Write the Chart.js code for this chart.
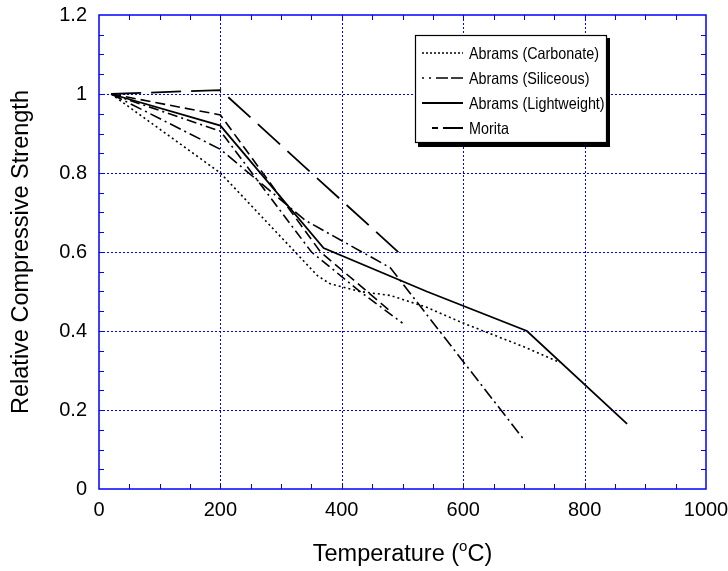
<!DOCTYPE html>
<html><head><meta charset="utf-8">
<script src="https://cdn.jsdelivr.net/npm/chart.js@4"></script>
<style>html,body{margin:0;padding:0;background:#fff;} #wrap{width:728px;height:571px;position:relative;}</style>
</head><body><div id="wrap"><canvas id="c" width="728" height="571"></canvas></div>
<script>
// ---- data ----
const carbonateT = [20, 200, 360, 380, 430, 480, 540, 600, 700, 760];
const carbonateR = [1.0, 0.80, 0.54, 0.52, 0.50, 0.49, 0.46, 0.42, 0.36, 0.32];
const siliceousT = [20, 200, 340, 480, 700];
const siliceousR = [1.0, 0.86, 0.68, 0.56, 0.125];
const siliceous2T = [20, 200, 350, 430, 500];
const siliceous2R = [1.0, 0.906, 0.60, 0.50, 0.42];
const lightT = [20, 200, 370, 540, 705, 870];
const lightR = [1.0, 0.92, 0.61, 0.50, 0.40, 0.165];
const moritaT = [20, 200, 500];
const moritaR = [1.0, 1.01, 0.59];
const morita2T = [20, 200, 365, 480];
const morita2R = [1.0, 0.947, 0.60, 0.45];
const xTicks = [0, 200, 400, 600, 800, 1000];
const yTicks = [0, 0.2, 0.4, 0.6, 0.8, 1, 1.2];
const legendLabels = ['Abrams (Carbonate)', 'Abrams (Siliceous)', 'Abrams (Lightweight)', 'Morita'];
const xTitle = ['Temperature (', 'o', 'C)'];
const yTitle = 'Relative Compressive Strength';

function pts(T, R) { return T.map((t, i) => ({x: t, y: R[i]})); }

const FONT = '"Liberation Sans", Arial, sans-serif';
const BLUE = '#0000ff';

const dsStyles = [
  {dash: [2, 3], width: 1.6, legendDash: [2, 2]},
  {dash: [12, 4, 2, 4], width: 1.6, legendDash: [2, 5, 2, 5, 12, 3, 12, 3]},
  {dash: [], width: 1.8, legendDash: []},
  {dash: [30, 10], width: 1.8, legendDash: [6, 5, 30, 5]}
];

const datasets = [
  {label: legendLabels[0], data: pts(carbonateT, carbonateR), li: 0},
  {label: legendLabels[1], data: pts(siliceousT, siliceousR), li: 1},
  {label: legendLabels[2], data: pts(lightT, lightR), li: 2},
  {label: legendLabels[3], data: pts(moritaT, moritaR), li: 3},
  {label: legendLabels[1] + ' 2', data: pts(siliceous2T, siliceous2R), li: 1, style: {dash: [10, 4, 2, 4], width: 1.6}},
  {label: legendLabels[3] + ' 2', data: pts(morita2T, morita2R), li: 3, style: {dash: [10, 5], width: 1.6}}
].map(d => {
  const s = d.style || dsStyles[d.li];
  return {
    label: d.label, data: d.data, showLine: true, pointRadius: 0, pointHoverRadius: 0,
    borderColor: '#000', backgroundColor: '#000', borderWidth: s.width, borderDash: s.dash,
    tension: 0, fill: false
  };
});

const framePlugin = {
  id: 'frame',
  beforeDatasetsDraw(chart) {
    const {ctx, chartArea: a, scales: {x, y}} = chart;
    ctx.save();
    ctx.strokeStyle = BLUE; ctx.lineWidth = 1; ctx.setLineDash([2, 2]);
    for (let v = 200; v < 1000; v += 200) {
      const px = Math.round(x.getPixelForValue(v)) + 0.5;
      ctx.beginPath(); ctx.moveTo(px, a.top); ctx.lineTo(px, a.bottom); ctx.stroke();
    }
    for (let k = 1; k < 6; k++) {
      const py = Math.round(y.getPixelForValue(k * 0.2)) + 0.5;
      ctx.beginPath(); ctx.moveTo(a.left, py); ctx.lineTo(a.right, py); ctx.stroke();
    }
    ctx.restore();
  },
  afterDatasetsDraw(chart) {
    const {ctx, chartArea: a, scales: {x, y}} = chart;
    ctx.save();
    ctx.strokeStyle = BLUE; ctx.setLineDash([]);
    ctx.lineWidth = 1;
    const tl = 5;
    for (let v = 50; v < 1000; v += 50) {
      const px = Math.round(x.getPixelForValue(v)) + 0.5;
      ctx.beginPath();
      ctx.moveTo(px, a.bottom); ctx.lineTo(px, a.bottom - tl);
      ctx.moveTo(px, a.top); ctx.lineTo(px, a.top + tl);
      ctx.stroke();
    }
    for (let k = 1; k < 24; k++) {
      const py = Math.round(y.getPixelForValue(k * 0.05)) + 0.5;
      ctx.beginPath();
      ctx.moveTo(a.left, py); ctx.lineTo(a.left + tl, py);
      ctx.moveTo(a.right, py); ctx.lineTo(a.right - tl, py);
      ctx.stroke();
    }
    ctx.lineWidth = 1.5;
    ctx.strokeRect(a.left, a.top, a.right - a.left, a.bottom - a.top);
    ctx.restore();
  },
  afterDraw(chart) {
    const {ctx, chartArea: a} = chart;
    ctx.save();
    ctx.fillStyle = '#000';
    ctx.font = '23.5px ' + FONT;
    ctx.textAlign = 'center'; ctx.textBaseline = 'middle';
    ctx.translate(22, (a.top + a.bottom) / 2);
    ctx.rotate(-Math.PI / 2);
    ctx.fillText(yTitle, 0, 0);
    ctx.setTransform(1, 0, 0, 1, 0, 0);
    ctx.textBaseline = 'alphabetic'; ctx.textAlign = 'left';
    const big = '23.5px ' + FONT, small = '15px ' + FONT;
    ctx.font = big; const w1 = ctx.measureText(xTitle[0]).width, w3 = ctx.measureText(xTitle[2]).width;
    ctx.font = small; const w2 = ctx.measureText(xTitle[1]).width;
    let sx = (a.left + a.right) / 2 - (w1 + w2 + w3) / 2;
    const by = 561;
    ctx.font = big; ctx.fillText(xTitle[0], sx, by);
    ctx.font = small; ctx.fillText(xTitle[1], sx + w1, by - 10);
    ctx.font = big; ctx.fillText(xTitle[2], sx + w1 + w2, by);
    const lx = 415, ly = 35, lw = 192, lh = 108;
    ctx.fillStyle = '#000';
    ctx.fillRect(lx + 3, ly + 3, lw, lh + 1);
    ctx.fillStyle = '#fff';
    ctx.fillRect(lx, ly, lw, lh);
    ctx.strokeStyle = '#000'; ctx.lineWidth = 1.2;
    ctx.strokeRect(lx + 0.5, ly + 0.5, lw - 1, lh - 1);
    legendLabels.forEach((lab, i) => {
      const yy = 53 + i * 25;
      const s = dsStyles[i];
      ctx.setLineDash(s.legendDash); ctx.lineWidth = s.width; ctx.strokeStyle = '#000';
      ctx.beginPath(); ctx.moveTo(i === 3 ? 432 : 422, yy); ctx.lineTo(463, yy); ctx.stroke();
      ctx.setLineDash([]);
      ctx.save();
      ctx.translate(469, yy + 1);
      ctx.scale(0.87, 1);
      ctx.font = '16.5px ' + FONT; ctx.textBaseline = 'middle';
      ctx.fillStyle = '#000';
      ctx.fillText(lab, 0, 0);
      ctx.restore();
    });
    ctx.restore();
  }
};

new Chart(document.getElementById('c'), {
  type: 'scatter',
  data: {datasets},
  options: {
    responsive: false, animation: false, devicePixelRatio: 1,
    layout: {padding: {top: 15, right: 22, left: 0, bottom: 0}},
    plugins: {legend: {display: false}, tooltip: {enabled: false}},
    scales: {
      x: {
        type: 'linear', min: 0, max: 1000,
        afterBuildTicks: s => { s.ticks = xTicks.map(v => ({value: v})); },
        ticks: {color: '#000', font: {size: 20, family: FONT}, padding: 9, maxRotation: 0, autoSkip: false,
                callback: v => String(v)},
        grid: {display: false, drawTicks: false}, border: {display: false},
        afterFit: s => { s.height = 82; s.paddingLeft = 0; s.paddingRight = 0; }
      },
      y: {
        type: 'linear', min: 0, max: 1.2,
        afterBuildTicks: s => { s.ticks = yTicks.map(v => ({value: v})); },
        ticks: {color: '#000', font: {size: 20, family: FONT}, padding: 12, autoSkip: false,
                callback: v => String(Math.round(v * 10) / 10)},
        grid: {display: false, drawTicks: false}, border: {display: false},
        afterFit: s => { s.width = 99; s.paddingTop = 0; s.paddingBottom = 0; }
      }
    }
  },
  plugins: [framePlugin]
});
</script></body></html>
